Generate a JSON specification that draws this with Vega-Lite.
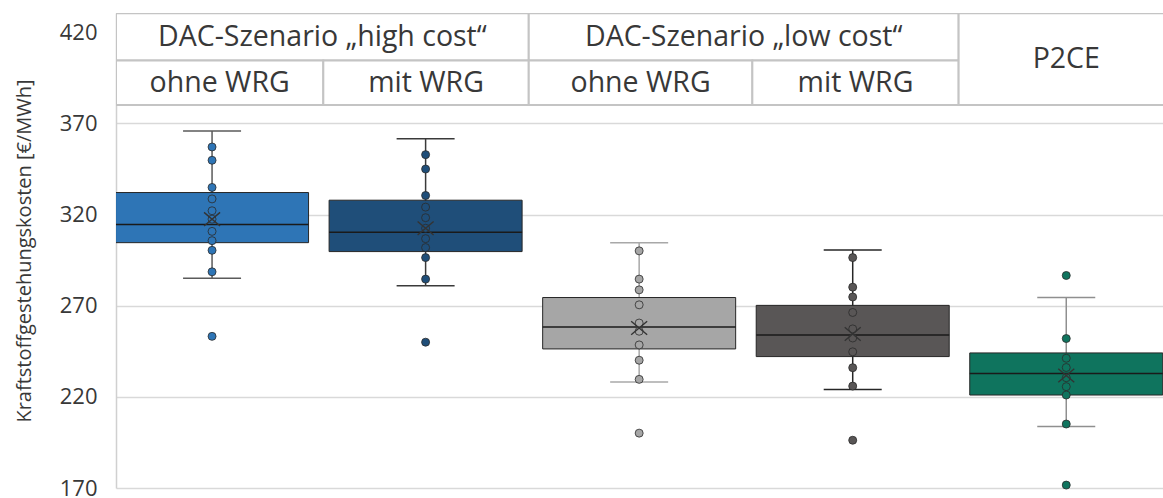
{
  "$schema": "https://vega.github.io/schema/vega-lite/v6.json",
  "width": 1047,
  "height": 475,
  "autosize": {"type": "none"},
  "padding": {"left": 116, "top": 13, "right": 0, "bottom": 10},
  "background": "white",
  "config": {
    "view": {"stroke": null},
    "font": "Open Sans",
    "scale": {"continuousPadding": 0},
    "axisY": {
      "labelFontSize": 22, "labelColor": "#383838", "labelFont": "Open Sans",
      "titleFont": "Open Sans", "titleFontSize": 20, "titleFontWeight": "normal", "titleColor": "#383838",
      "gridColor": "#d9d9d9", "gridWidth": 1.5, "domainColor": "#d0d0d0", "domainWidth": 1.5,
      "ticks": false, "tickSize": 0, "labelPadding": 19, "titlePadding": 25
    }
  },
  "datasets": {
    "stats": [
      {"pos": 1, "group": "high_ohne", "lower": 285.1, "q1": 304.6, "median": 314.6, "q3": 332.1, "upper": 365.8, "mean": 317.5},
      {"pos": 2, "group": "high_mit", "lower": 280.9, "q1": 299.7, "median": 310.3, "q3": 327.9, "upper": 361.6, "mean": 312.5},
      {"pos": 3, "group": "low_ohne", "lower": 228.1, "q1": 246.3, "median": 258.3, "q3": 274.5, "upper": 304.6, "mean": 257.8},
      {"pos": 4, "group": "low_mit", "lower": 224.1, "q1": 242.1, "median": 254.0, "q3": 270.2, "upper": 300.6, "mean": 254.5},
      {"pos": 5, "group": "p2ce", "lower": 203.7, "q1": 221.0, "median": 232.8, "q3": 244.1, "upper": 274.5, "mean": 231.7}
    ],
    "pts": [
      {"pos": 1, "group": "high_ohne", "v": 357.1}, {"pos": 1, "group": "high_ohne", "v": 349.8}, {"pos": 1, "group": "high_ohne", "v": 334.9},
      {"pos": 1, "group": "high_ohne", "v": 328.6}, {"pos": 1, "group": "high_ohne", "v": 322.1}, {"pos": 1, "group": "high_ohne", "v": 317.5},
      {"pos": 1, "group": "high_ohne", "v": 310.8}, {"pos": 1, "group": "high_ohne", "v": 305.7}, {"pos": 1, "group": "high_ohne", "v": 300.4},
      {"pos": 1, "group": "high_ohne", "v": 288.6}, {"pos": 1, "group": "high_ohne", "v": 253.2},
      {"pos": 2, "group": "high_mit", "v": 352.9}, {"pos": 2, "group": "high_mit", "v": 345.0}, {"pos": 2, "group": "high_mit", "v": 330.5},
      {"pos": 2, "group": "high_mit", "v": 324.1}, {"pos": 2, "group": "high_mit", "v": 318.3}, {"pos": 2, "group": "high_mit", "v": 312.5},
      {"pos": 2, "group": "high_mit", "v": 306.8}, {"pos": 2, "group": "high_mit", "v": 301.9}, {"pos": 2, "group": "high_mit", "v": 296.4},
      {"pos": 2, "group": "high_mit", "v": 284.6}, {"pos": 2, "group": "high_mit", "v": 250.0},
      {"pos": 3, "group": "low_ohne", "v": 300.1}, {"pos": 3, "group": "low_ohne", "v": 284.6}, {"pos": 3, "group": "low_ohne", "v": 278.7},
      {"pos": 3, "group": "low_ohne", "v": 270.5}, {"pos": 3, "group": "low_ohne", "v": 260.5}, {"pos": 3, "group": "low_ohne", "v": 256.0},
      {"pos": 3, "group": "low_ohne", "v": 248.5}, {"pos": 3, "group": "low_ohne", "v": 240.1}, {"pos": 3, "group": "low_ohne", "v": 229.6},
      {"pos": 3, "group": "low_ohne", "v": 200.1},
      {"pos": 4, "group": "low_mit", "v": 296.4}, {"pos": 4, "group": "low_mit", "v": 280.2}, {"pos": 4, "group": "low_mit", "v": 274.8},
      {"pos": 4, "group": "low_mit", "v": 266.3}, {"pos": 4, "group": "low_mit", "v": 257.3}, {"pos": 4, "group": "low_mit", "v": 252.3},
      {"pos": 4, "group": "low_mit", "v": 244.7}, {"pos": 4, "group": "low_mit", "v": 236.0}, {"pos": 4, "group": "low_mit", "v": 225.9},
      {"pos": 4, "group": "low_mit", "v": 196.2},
      {"pos": 5, "group": "p2ce", "v": 286.6}, {"pos": 5, "group": "p2ce", "v": 252.0}, {"pos": 5, "group": "p2ce", "v": 241.2},
      {"pos": 5, "group": "p2ce", "v": 236.1}, {"pos": 5, "group": "p2ce", "v": 230.5}, {"pos": 5, "group": "p2ce", "v": 225.6},
      {"pos": 5, "group": "p2ce", "v": 221.0}, {"pos": 5, "group": "p2ce", "v": 205.1}, {"pos": 5, "group": "p2ce", "v": 171.6}
    ],
    "cells": [
      {"x0": 0.5502, "x1": 2.483, "y0": 404.6, "y1": 430.4, "label": "DAC-Szenario „high cost“", "xm": 1.5166, "ym": 417.5},
      {"x0": 2.483, "x1": 4.496, "y0": 404.6, "y1": 430.4, "label": "DAC-Szenario „low cost“", "xm": 3.4895, "ym": 417.5},
      {"x0": 0.5502, "x1": 1.521, "y0": 380.1, "y1": 404.6, "label": "ohne WRG", "xm": 1.0356, "ym": 392.35},
      {"x0": 1.521, "x1": 2.483, "y0": 380.1, "y1": 404.6, "label": "mit WRG", "xm": 2.002, "ym": 392.35},
      {"x0": 2.483, "x1": 3.53, "y0": 380.1, "y1": 404.6, "label": "ohne WRG", "xm": 3.0065, "ym": 392.35},
      {"x0": 3.53, "x1": 4.496, "y0": 380.1, "y1": 404.6, "label": "mit WRG", "xm": 4.013, "ym": 392.35},
      {"x0": 4.496, "x1": 5.7, "y0": 380.1, "y1": 430.4, "label": "P2CE", "xm": 5.0, "ym": 405.35}
    ]
  },
  "layer": [
    {
      "data": {"name": "stats"},
      "mark": {"type": "rule", "strokeWidth": 1.5},
      "encoding": {
        "x": {"field": "pos", "type": "quantitative", "scale": {"domain": [0.5502, 5.453], "nice": false, "zero": false, "padding": 0}, "axis": null},
        "y": {"field": "lower", "type": "quantitative", "scale": {"domain": [170, 430.6], "nice": false, "zero": false, "padding": 0},
              "axis": {"values": [170, 220, 270, 320, 370, 420], "grid": true}, "title": "Kraftstoffgestehungskosten [€/MWh]"},
        "y2": {"field": "upper"},
        "stroke": {"field": "group", "type": "nominal", "scale": {"domain": ["high_ohne", "high_mit", "low_ohne", "low_mit", "p2ce"], "range": ["#5a5a5a", "#3a3a3a", "#a8a8a8", "#262626", "#8f8f8f"]}, "legend": null}
      }
    },
    {
      "data": {"name": "stats"},
      "mark": {"type": "point", "shape": "stroke", "size": 3364, "filled": false, "strokeWidth": 1.5, "opacity": 1},
      "encoding": {
        "x": {"field": "pos", "type": "quantitative", "axis": null},
        "y": {"field": "lower", "type": "quantitative", "title": "Kraftstoffgestehungskosten [€/MWh]"},
        "stroke": {"field": "group", "type": "nominal", "legend": null}
      }
    },
    {
      "data": {"name": "stats"},
      "mark": {"type": "point", "shape": "stroke", "size": 3364, "filled": false, "strokeWidth": 1.5, "opacity": 1},
      "encoding": {
        "x": {"field": "pos", "type": "quantitative", "axis": null},
        "y": {"field": "upper", "type": "quantitative", "title": "Kraftstoffgestehungskosten [€/MWh]"},
        "stroke": {"field": "group", "type": "nominal", "legend": null}
      }
    },
    {
      "data": {"name": "stats"},
      "mark": {"type": "bar", "size": 193, "stroke": "#262626", "strokeWidth": 1, "clip": true},
      "encoding": {
        "x": {"field": "pos", "type": "quantitative", "axis": null},
        "y": {"field": "q3", "type": "quantitative", "title": "Kraftstoffgestehungskosten [€/MWh]"},
        "y2": {"field": "q1"},
        "fill": {"field": "group", "type": "nominal", "scale": {"domain": ["high_ohne", "high_mit", "low_ohne", "low_mit", "p2ce"], "range": ["#2E75B6", "#1F4E79", "#A6A6A6", "#595656", "#0F745E"]}, "legend": null}
      }
    },
    {
      "data": {"name": "stats"},
      "mark": {"type": "tick", "orient": "horizontal", "size": 193, "thickness": 1.5, "color": "#1a1a1a", "opacity": 1, "clip": true},
      "encoding": {
        "x": {"field": "pos", "type": "quantitative", "axis": null},
        "y": {"field": "median", "type": "quantitative", "title": "Kraftstoffgestehungskosten [€/MWh]"}
      }
    },
    {
      "data": {"name": "pts"},
      "mark": {"type": "point", "filled": true, "size": 64, "stroke": "#2b2b2b", "strokeWidth": 0.8, "opacity": 1},
      "encoding": {
        "x": {"field": "pos", "type": "quantitative", "axis": null},
        "y": {"field": "v", "type": "quantitative", "title": "Kraftstoffgestehungskosten [€/MWh]"},
        "fill": {"field": "group", "type": "nominal", "legend": null}
      }
    },
    {
      "data": {"name": "stats"},
      "mark": {"type": "point", "shape": "M-1,-0.85L1,0.85M1,-0.85L-1,0.85", "size": 256, "filled": false, "stroke": "#333333", "strokeWidth": 1.4, "opacity": 1},
      "encoding": {
        "x": {"field": "pos", "type": "quantitative", "axis": null},
        "y": {"field": "mean", "type": "quantitative", "title": "Kraftstoffgestehungskosten [€/MWh]"}
      }
    },
    {
      "data": {"name": "cells"},
      "mark": {"type": "rect", "fill": "white", "stroke": "#c4c4c4", "strokeWidth": 2, "clip": true},
      "encoding": {
        "x": {"field": "x0", "type": "quantitative", "axis": null},
        "x2": {"field": "x1"},
        "y": {"field": "y0", "type": "quantitative", "title": "Kraftstoffgestehungskosten [€/MWh]"},
        "y2": {"field": "y1"}
      }
    },
    {
      "data": {"name": "cells"},
      "mark": {"type": "text", "fontSize": 28.5, "color": "#383838", "font": "Open Sans", "align": "center", "baseline": "middle"},
      "encoding": {
        "x": {"field": "xm", "type": "quantitative", "axis": null},
        "y": {"field": "ym", "type": "quantitative", "title": "Kraftstoffgestehungskosten [€/MWh]"},
        "text": {"field": "label", "type": "nominal"}
      }
    },
    {
      "mark": {"type": "rule", "color": "#8c8c8c", "strokeWidth": 2},
      "encoding": {
        "x": {"datum": 4.496, "type": "quantitative", "axis": null}
      }
    }
  ]
}
